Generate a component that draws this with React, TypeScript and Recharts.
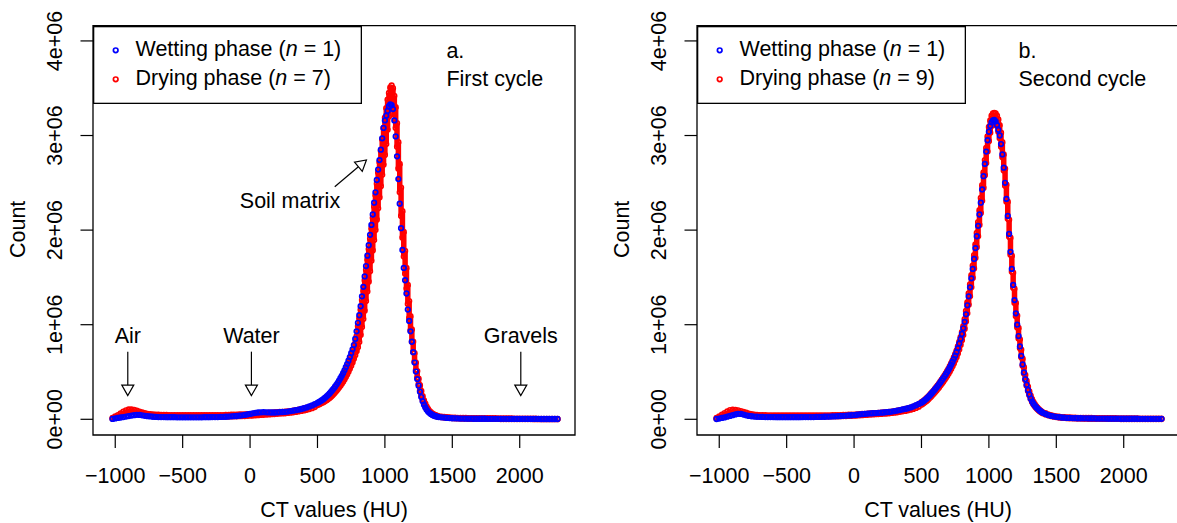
import React from 'react';
import {
  ScatterChart,
  Scatter,
  XAxis,
  YAxis,
  ReferenceArea,
  ReferenceLine,
  ReferenceDot,
  ErrorBar,
  Legend,
} from 'recharts';

const FONT = '"Liberation Sans", Arial, Helvetica, sans-serif';
const FS = 21.5;
const BLUE = '#0000FF';
const RED = '#FF0000';
const DOT_R = 2.3;
const DOT_W = 1.7;

// CT value bins (HU)
const huBins = [
  -1020, -1000, -980, -960, -940, -920, -900, -880, -860, -840,
  -820, -800, -780, -760, -740, -720, -700, -680, -660, -640,
  -620, -600, -580, -560, -540, -520, -500, -480, -460, -440,
  -420, -400, -380, -360, -340, -320, -300, -280, -260, -240,
  -220, -200, -180, -160, -140, -120, -100, -80, -60, -40,
  -20, 0, 20, 40, 60, 80, 100, 120, 140, 160,
  180, 200, 220, 240, 260, 280, 300, 320, 340, 360,
  380, 400, 420, 440, 460, 480,
  500, 510, 520, 530, 540, 550, 560, 570, 580, 590,
  600, 610, 620, 630, 640, 650, 660, 670, 680, 690,
  700, 710, 720, 730, 740, 750, 760, 770, 780, 790,
  800, 810, 820, 830, 840, 850, 860, 870, 880, 890,
  900, 910, 920, 930, 940, 950, 960, 970, 980, 990,
  1000, 1010, 1020, 1030, 1040, 1050, 1060, 1070, 1080, 1090,
  1100, 1110, 1120, 1130, 1140, 1150, 1160, 1170, 1180, 1190,
  1200, 1210, 1220, 1230, 1240, 1250, 1260, 1270, 1280, 1290,
  1300, 1310, 1320, 1330, 1340, 1350, 1360, 1370, 1380, 1390,
  1400,
  1420, 1440, 1460, 1480, 1500, 1520, 1540, 1560, 1580, 1600,
  1620, 1640, 1660, 1680, 1700, 1720, 1740, 1760, 1780, 1800,
  1820, 1840, 1860, 1880, 1900, 1920, 1940, 1960, 1980, 2000,
  2020, 2040, 2060, 2080, 2100, 2120, 2140, 2160, 2180, 2200,
  2220, 2240, 2260, 2280,
];

// Counts in thousands — first cycle
const wettingCycle1 = [
  4, 9, 14, 19, 24, 29, 34, 39, 44, 47,
  46, 42, 37, 33, 30, 27, 25, 24, 23, 23,
  22, 22, 22, 22, 21, 21, 21, 21, 21, 21,
  21, 21, 21, 21, 22, 22, 22, 23, 23, 24,
  25, 26, 27, 29, 31, 33, 35, 38, 42, 46,
  51, 57, 63, 68, 72, 74, 75, 74, 73, 72,
  72, 73, 75, 77, 79, 82, 87, 91, 96, 102,
  109, 117, 126, 136, 147, 160,
  174, 182, 190, 199, 209, 220, 232, 245, 259, 274,
  290, 307, 325, 344, 364, 386, 409, 434, 460, 488,
  518, 550, 584, 620, 658, 698, 740, 785, 850, 930,
  1020, 1100, 1195, 1300, 1400, 1510, 1620, 1730, 1840, 1950,
  2055, 2165, 2290, 2400, 2530, 2640, 2740, 2850, 2970, 3080,
  3160, 3210, 3260, 3310, 3330, 3320, 3280, 3160, 2990, 2780,
  2540, 2280, 2020, 1790, 1600, 1470, 1330, 1160, 1040, 930,
  820, 710, 600, 505, 425, 355, 290, 235, 190, 155,
  125, 100, 82, 68, 57, 48, 41, 35, 31, 27,
  24,
  21, 18, 15, 13, 11, 10, 9, 8, 8, 7,
  7, 7, 6, 6, 6, 6, 6, 5, 5, 5,
  5, 5, 5, 5, 5, 5, 4, 4, 4, 4,
  4, 4, 4, 4, 4, 4, 4, 3, 3, 3,
  3, 3, 3, 3,
];
const dryingLowCycle1 = [
  5, 15, 28, 42, 56, 68, 76, 78, 74, 68,
  60, 53, 47, 42, 38, 35, 33, 32, 31, 30,
  30, 29, 29, 29, 29, 29, 28, 28, 28, 28,
  28, 28, 28, 28, 28, 28, 28, 28, 28, 28,
  28, 28, 28, 29, 30, 31, 32, 33, 34, 35,
  37, 38, 40, 42, 44, 46, 48, 50, 52, 54,
  56, 58, 60, 62, 64, 67, 70, 74, 78, 83,
  88, 94, 101, 109, 118, 129,
  150, 157, 164, 171, 178, 186, 195, 204, 214, 226,
  238, 252, 267, 283, 300, 317, 335, 354, 375, 398,
  421, 447, 474, 503, 534, 567, 601, 639, 678, 720,
  762, 817, 890, 975, 1060, 1147, 1250, 1350, 1455, 1565,
  1675, 1785, 1895, 2000, 2110, 2230, 2345, 2465, 2585, 2690,
  2795, 2910, 3060, 3200, 3290, 3330, 3310, 3220, 3080, 2880,
  2650, 2400, 2150, 1920, 1720, 1540, 1380, 1220, 1070, 940,
  820, 710, 610, 520, 440, 370, 305, 250, 205, 165,
  135, 110, 90, 75, 62, 52, 44, 38, 33, 29,
  26,
  22, 19, 16, 14, 12, 10, 9, 8, 7, 7,
  6, 6, 6, 5, 5, 5, 5, 4, 4, 4,
  4, 4, 3, 3, 3, 3, 3, 2, 2, 2,
  2, 2, 2, 2, 1, 1, 1, 1, 1, 1,
  1, 1, 1, 1,
];
const dryingHighCycle1 = [
  15, 30, 45, 62, 80, 95, 104, 105, 100, 92,
  82, 72, 64, 58, 54, 51, 49, 48, 47, 46,
  46, 45, 45, 44, 44, 44, 44, 44, 44, 44,
  44, 44, 44, 44, 44, 44, 44, 44, 44, 44,
  44, 45, 46, 47, 48, 49, 50, 51, 52, 53,
  54, 55, 57, 59, 61, 63, 65, 67, 69, 71,
  73, 75, 77, 79, 81, 84, 87, 91, 96, 101,
  107, 114, 122, 131, 141, 153,
  165, 173, 181, 190, 200, 210, 222, 234, 247, 262,
  277, 293, 311, 329, 349, 370, 392, 416, 441, 467,
  495, 525, 556, 590, 626, 664, 705, 750, 805, 880,
  985, 1070, 1160, 1260, 1360, 1470, 1580, 1690, 1800, 1910,
  2020, 2130, 2250, 2370, 2490, 2610, 2720, 2840, 2960, 3080,
  3190, 3290, 3380, 3450, 3510, 3530, 3500, 3420, 3300, 3130,
  2930, 2700, 2450, 2200, 1980, 1780, 1600, 1420, 1250, 1090,
  950, 820, 700, 600, 510, 430, 360, 300, 245, 200,
  165, 135, 110, 90, 75, 63, 54, 46, 40, 35,
  31,
  28, 25, 22, 20, 18, 17, 16, 15, 14, 14,
  13, 13, 13, 12, 12, 12, 12, 11, 11, 11,
  11, 10, 10, 10, 9, 9, 9, 8, 8, 8,
  7, 7, 7, 6, 6, 6, 5, 5, 5, 5,
  4, 4, 4, 4,
];

// Counts in thousands — second cycle
const wettingCycle2 = [
  3, 8, 14, 20, 28, 36, 44, 52, 58, 57,
  50, 42, 36, 32, 29, 27, 26, 25, 24, 24,
  23, 23, 22, 22, 22, 22, 22, 22, 22, 22,
  22, 22, 23, 23, 23, 24, 24, 25, 25, 26,
  27, 28, 29, 30, 31, 33, 35, 37, 39, 41,
  43, 45, 48, 51, 54, 57, 60, 62, 64, 66,
  68, 70, 72, 75, 78, 82, 87, 92, 98, 104,
  110, 117, 126, 137, 149, 162,
  175, 185, 196, 208, 221, 235, 250, 265, 281, 298,
  315, 333, 351, 370, 390, 410, 431, 452, 474, 497,
  521, 548, 577, 607, 639, 673, 710, 752, 800, 850,
  902, 962, 1030, 1110, 1205, 1300, 1395, 1490, 1590, 1695,
  1810, 1935, 2045, 2165, 2290, 2430, 2570, 2700, 2830, 2950,
  3040, 3100, 3140, 3160, 3165, 3150, 3110, 3060, 3000, 2910,
  2800, 2660, 2500, 2330, 2150, 1960, 1770, 1590, 1420, 1260,
  1120, 1000, 880, 770, 670, 580, 495, 425, 365, 310,
  262, 220, 190, 165, 145, 128, 113, 100, 88, 77,
  68,
  56, 45, 37, 31, 26, 22, 19, 17, 15, 14,
  13, 12, 11, 11, 10, 10, 9, 9, 9, 8,
  8, 8, 8, 7, 7, 7, 7, 7, 6, 6,
  6, 6, 6, 6, 6, 5, 5, 5, 5, 5,
  5, 5, 5, 5,
];
const dryingLowCycle2 = [
  5, 15, 30, 45, 58, 68, 72, 72, 68, 62,
  55, 48, 42, 38, 35, 33, 31, 30, 29, 29,
  29, 28, 28, 28, 28, 28, 28, 28, 28, 28,
  28, 28, 28, 28, 28, 28, 28, 29, 29, 29,
  29, 30, 30, 31, 31, 32, 33, 34, 35, 36,
  37, 38, 40, 42, 44, 46, 48, 50, 52, 54,
  55, 57, 59, 61, 64, 67, 70, 74, 79, 84,
  89, 95, 102, 110, 120, 133,
  155, 164, 174, 185, 197, 210, 224, 238, 253, 269,
  285, 302, 319, 337, 356, 375, 395, 415, 436, 458,
  481, 506, 533, 561, 591, 623, 657, 695, 738, 785,
  835, 890, 955, 1035, 1120, 1210, 1300, 1395, 1495, 1595,
  1705, 1820, 1935, 2055, 2180, 2310, 2445, 2580, 2710, 2830,
  2940, 3030, 3100, 3140, 3150, 3140, 3100, 3040, 2970, 2880,
  2770, 2630, 2470, 2300, 2120, 1930, 1740, 1560, 1390, 1230,
  1090, 970, 855, 750, 655, 565, 485, 415, 355, 300,
  255, 215, 183, 158, 138, 121, 106, 93, 82, 72,
  64,
  52, 42, 34, 28, 23, 19, 16, 14, 12, 11,
  10, 9, 8, 8, 7, 7, 6, 6, 6, 5,
  5, 5, 5, 4, 4, 4, 4, 4, 3, 3,
  3, 3, 3, 3, 3, 2, 2, 2, 2, 2,
  2, 2, 2, 2,
];
const dryingHighCycle2 = [
  15, 30, 48, 66, 84, 98, 102, 100, 95, 87,
  78, 69, 61, 55, 50, 47, 45, 44, 43, 42,
  42, 41, 41, 41, 40, 40, 40, 40, 40, 40,
  40, 40, 40, 40, 40, 40, 40, 41, 41, 41,
  41, 42, 42, 43, 43, 44, 45, 46, 47, 48,
  49, 50, 52, 54, 56, 58, 60, 62, 64, 66,
  68, 70, 72, 75, 78, 82, 86, 91, 97, 103,
  109, 115, 123, 133, 145, 158,
  180, 190, 201, 213, 226, 240, 255, 271, 287, 304,
  322, 340, 359, 378, 398, 419, 440, 462, 485, 509,
  534, 561, 590, 621, 654, 689, 727, 770, 818, 868,
  920, 985, 1060, 1145, 1235, 1330, 1425, 1525, 1625, 1735,
  1850, 1970, 2085, 2210, 2340, 2475, 2610, 2740, 2870, 2990,
  3090, 3160, 3210, 3235, 3240, 3235, 3210, 3170, 3110, 3030,
  2930, 2800, 2650, 2480, 2300, 2110, 1920, 1730, 1550, 1380,
  1230, 1095, 965, 845, 735, 640, 550, 470, 405, 345,
  295, 250, 212, 183, 160, 140, 123, 108, 95, 84,
  74,
  64, 52, 43, 36, 31, 27, 24, 22, 20, 19,
  18, 17, 16, 16, 15, 15, 14, 14, 13, 13,
  13, 12, 12, 12, 11, 11, 11, 10, 10, 10,
  10, 9, 9, 9, 9, 8, 8, 8, 8, 8,
  7, 7, 7, 7,
];

const xTicks = [-1000, -500, 0, 500, 1000, 1500, 2000];
const xTickLabels = ['\u22121000', '\u2212500', '0', '500', '1000', '1500', '2000'];
const yTicks = [0, 1000000, 2000000, 3000000, 4000000];
const yTickLabels = ['0e+00', '1e+06', '2e+06', '3e+06', '4e+06'];

// annotations (panel a), data coordinates
const markerLabels = ['Air', 'Water', 'Gravels'];
const markerHU = [-907, 10, 2008];
const markerTextCount = 803000;
const markerArrowFrom = 715000;
const markerArrowTo = 250000;
const soilText = { x: 296, y: 2231000 };
const soilArrow = [{ x: 628, y: 2459000 }, { x: 863, y: 2741000 }];

const UNIT = 1000;
const X_DOMAIN: [number, number] = [-1165, 2410];
const Y_DOMAIN: [number, number] = [-166000, 4161000];

function buildSeries(wet: number[], lo: number[], hi: number[]) {
  const wetRows: any[] = [];
  const loRows: any[] = [];
  const hiRows: any[] = [];
  huBins.forEach((x, i) => {
    if (wet[i] != null) wetRows.push({ x, y: wet[i] * UNIT });
    if (lo[i] != null && hi[i] != null) {
      loRows.push({ x, y: lo[i] * UNIT, err: [0, (hi[i] - lo[i]) * UNIT] });
      hiRows.push({ x, y: hi[i] * UNIT });
    }
  });
  return { wetRows, loRows, hiRows };
}

const circleShape = (color: string) => (p: any) =>
  p.cx == null ? <g /> : (
    <circle cx={p.cx} cy={p.cy} r={DOT_R} fill="none" stroke={color} strokeWidth={DOT_W} />
  );

const txt = { fontFamily: FONT, fontSize: FS, fill: '#000' } as const;

const XTick = (p: any) => {
  const i = xTicks.indexOf(p.payload.value);
  return (
    <text x={p.x} y={p.y + 34.5} textAnchor="middle" {...txt}>
      {xTickLabels[i]}
    </text>
  );
};

const YTick = (p: any) => {
  const i = yTicks.indexOf(p.payload.value);
  const bx = p.x - 18.8;
  return (
    <text x={bx} y={p.y} textAnchor="middle" transform={`rotate(-90 ${bx} ${p.y})`} {...txt}>
      {yTickLabels[i]}
    </text>
  );
};

const XLabel = (p: any) => {
  const vb = p.viewBox || {};
  return (
    <text x={vb.x + vb.width / 2} y={vb.y + 82} textAnchor="middle" {...txt}>
      CT values (HU)
    </text>
  );
};

const YLabel = (p: any) => {
  const vb = p.viewBox || {};
  const x = vb.x + 25;
  const y = vb.y + vb.height / 2 - 1;
  return (
    <text x={x} y={y} textAnchor="middle" transform={`rotate(-90 ${x} ${y})`} {...txt}>
      Count
    </text>
  );
};

const Arrow = (p: any) => {
  const { x1, y1, x2, y2 } = p;
  if ([x1, y1, x2, y2].some((v) => v == null || isNaN(v))) return <g />;
  const dx = x2 - x1;
  const dy = y2 - y1;
  const len = Math.hypot(dx, dy) || 1;
  const ux = dx / len;
  const uy = dy / len;
  const L = 10.5;
  const W = 6;
  const bx = x2 - ux * L;
  const by = y2 - uy * L;
  const px = -uy;
  const py = ux;
  return (
    <g>
      <line x1={x1} y1={y1} x2={bx} y2={by} stroke="#000" strokeWidth={1.2} />
      <polygon
        points={`${x2},${y2} ${bx + px * W},${by + py * W} ${bx - px * W},${by - py * W}`}
        fill="#fff"
        stroke="#000"
        strokeWidth={1.2}
      />
    </g>
  );
};

const textShape = (label: string, anchor: 'start' | 'middle' = 'middle') => (p: any) =>
  p.cx == null ? <g /> : (
    <text x={p.cx} y={p.cy} textAnchor={anchor} {...txt}>
      {label}
    </text>
  );

const LegendBox = ({ n }: { n: number }) => (
  <svg width={269} height={78} style={{ display: 'block' }}>
    <rect x={0.65} y={0.65} width={267.7} height={76.7} fill="#fff" stroke="#000" strokeWidth={1.3} />
    <circle cx={22.7} cy={24.3} r={DOT_R} fill="none" stroke={BLUE} strokeWidth={DOT_W} />
    <text x={42.5} y={30.3} {...txt}>
      Wetting phase (<tspan fontStyle="italic">n</tspan> = 1)
    </text>
    <circle cx={22.7} cy={53.3} r={DOT_R} fill="none" stroke={RED} strokeWidth={DOT_W} />
    <text x={42.5} y={59} {...txt}>
      Drying phase (<tspan fontStyle="italic">n</tspan> = {n})
    </text>
  </svg>
);

type PanelProps = {
  left: number;
  wet: number[];
  lo: number[];
  hi: number[];
  n: number;
  tag: string;
  cycle: string;
  tagX: number;
  annotate: boolean;
};

function Panel({ left, wet, lo, hi, n, tag, cycle, tagX, annotate }: PanelProps) {
  const { wetRows, loRows, hiRows } = buildSeries(wet, lo, hi);
  return (
    <div style={{ position: 'absolute', left, top: 0 }}>
      <ScatterChart width={590} height={523} margin={{ top: 25.7, right: 15, bottom: 0, left: 0 }}>
        <XAxis
          type="number"
          dataKey="x"
          domain={X_DOMAIN}
          ticks={xTicks}
          interval={0}
          allowDataOverflow
          axisLine={false}
          tickLine={{ stroke: '#000', strokeWidth: 1.2 }}
          tickSize={13}
          tickMargin={0}
          height={88}
          tick={XTick}
          label={XLabel}
        />
        <YAxis
          type="number"
          dataKey="y"
          domain={Y_DOMAIN}
          ticks={yTicks}
          interval={0}
          allowDataOverflow
          axisLine={false}
          tickLine={{ stroke: '#000', strokeWidth: 1.2 }}
          tickSize={12.5}
          tickMargin={0}
          width={93}
          tick={YTick}
          label={YLabel}
        />
        <ReferenceArea
          x1={X_DOMAIN[0]}
          x2={X_DOMAIN[1]}
          y1={Y_DOMAIN[0]}
          y2={Y_DOMAIN[1]}
          ifOverflow="visible"
          fill="none"
          fillOpacity={0}
          stroke="#000"
          strokeWidth={1.3}
        />
        <Scatter data={loRows} shape={circleShape(RED)} isAnimationActive={false}>
          <ErrorBar dataKey="err" direction="y" width={0} stroke={RED} strokeWidth={5.5} isAnimationActive={false} />
        </Scatter>
        <Scatter data={hiRows} shape={circleShape(RED)} isAnimationActive={false} />
        <Scatter data={wetRows} shape={circleShape(BLUE)} isAnimationActive={false} />
        <ReferenceDot x={tagX} y={3822000} r={0} ifOverflow="visible" shape={textShape(tag, 'start')} />
        <ReferenceDot x={tagX} y={3521000} r={0} ifOverflow="visible" shape={textShape(cycle, 'start')} />
        {annotate &&
          markerLabels.map((lab, i) => (
            <ReferenceDot
              key={'t' + lab}
              x={markerHU[i]}
              y={markerTextCount}
              r={0}
              ifOverflow="visible"
              shape={textShape(lab)}
            />
          ))}
        {annotate &&
          markerLabels.map((lab, i) => (
            <ReferenceLine
              key={'a' + lab}
              segment={[
                { x: markerHU[i], y: markerArrowFrom },
                { x: markerHU[i], y: markerArrowTo },
              ]}
              ifOverflow="visible"
              shape={Arrow}
            />
          ))}
        {annotate && (
          <ReferenceDot x={soilText.x} y={soilText.y} r={0} ifOverflow="visible" shape={textShape('Soil matrix')} />
        )}
        {annotate && <ReferenceLine segment={soilArrow} ifOverflow="visible" shape={Arrow} />}
        <Legend
          verticalAlign="middle"
          align="center"
          content={() => <LegendBox n={n} />}
          wrapperStyle={{ left: 93, top: 25.7, width: 269, height: 78, margin: 0, padding: 0, lineHeight: 0 }}
        />
      </ScatterChart>
    </div>
  );
}

export default function App() {
  return (
    <div
      style={{
        position: 'absolute',
        left: 0,
        top: 0,
        width: 1177,
        height: 523,
        overflow: 'hidden',
        background: '#fff',
      }}
    >
      <Panel
        left={0}
        wet={wettingCycle1}
        lo={dryingLowCycle1}
        hi={dryingHighCycle1}
        n={7}
        tag="a."
        cycle="First cycle"
        tagX={1456}
        annotate
      />
      <Panel
        left={604}
        wet={wettingCycle2}
        lo={dryingLowCycle2}
        hi={dryingHighCycle2}
        n={9}
        tag="b."
        cycle="Second cycle"
        tagX={1219}
        annotate={false}
      />
    </div>
  );
}
